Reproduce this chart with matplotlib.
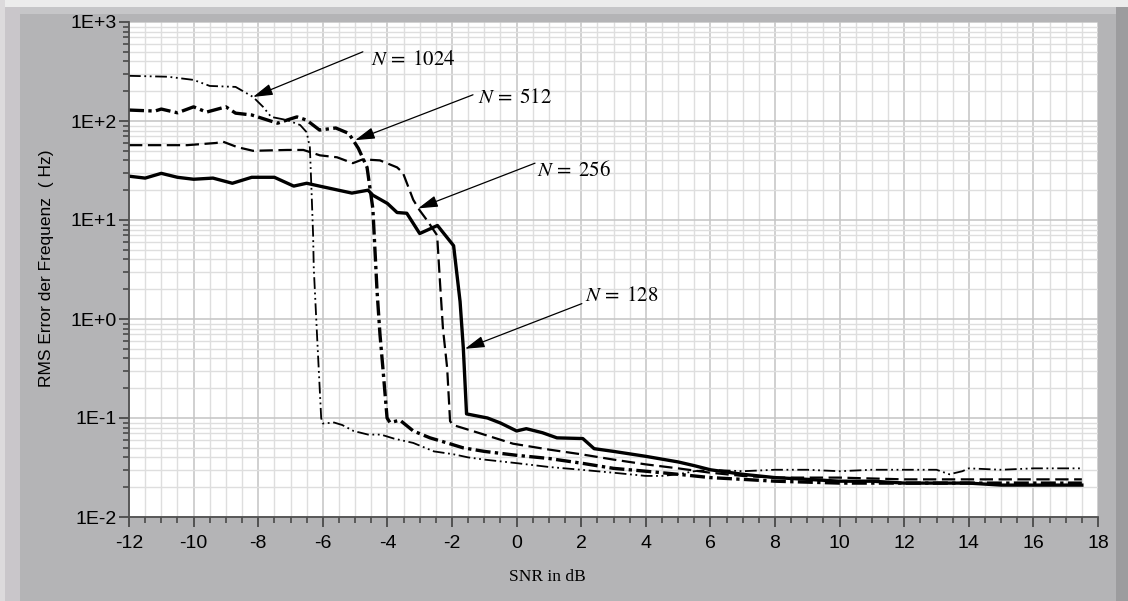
import matplotlib
matplotlib.use("Agg")
import matplotlib.pyplot as plt
import numpy as np
from matplotlib.patches import Rectangle
from matplotlib.ticker import MultipleLocator, LogLocator, FuncFormatter, NullFormatter

plt.rcParams['font.family'] = ['Liberation Sans', 'DejaVu Sans']
plt.rcParams['mathtext.fontset'] = 'stix'
plt.rcParams['axes.unicode_minus'] = False

# N = 128 (solid, thick)
snr_128 = [-12, -11.5, -11, -10.5, -10, -9.4, -8.8, -8.2, -7.5, -6.9, -6.5, -6.1, -5.1, -4.6,
           -4.45, -4.0, -3.7, -3.4, -3.0, -2.45, -1.95, -1.75, -1.65, -1.55, -0.9, -0.5, 0.0,
           0.3, 0.8, 1.25, 2.05, 2.4, 3, 4, 5, 5.5, 6, 7, 8, 9, 10, 11, 12, 13, 14, 15, 16, 17, 17.5]
rms_128 = [27.7, 26.5, 29.6, 27, 25.8, 26.5, 23.5, 27, 27, 22, 23.5, 22, 18.7, 20,
           17.8, 14.7, 11.9, 11.7, 7.3, 8.8, 5.5, 1.5, 0.51, 0.11, 0.1, 0.089, 0.074,
           0.078, 0.071, 0.063, 0.062, 0.049, 0.046, 0.041, 0.036, 0.033, 0.03, 0.027, 0.025, 0.024,
           0.023, 0.023, 0.022, 0.022, 0.022, 0.021, 0.021, 0.021, 0.021]

# N = 256 (dashed)
snr_256 = [-12, -10.2, -9.3, -9.1, -8.65, -8.16, -7.1, -6.6, -6.09, -5.56, -5.07, -4.76, -4.23,
           -3.7, -3.52, -3.2, -3.0, -2.77, -2.46, -2.37, -2.28, -2.15, -2.06, -1.97, -1.13, -0.11,
           1, 2, 3, 4, 5, 6, 7, 8, 10, 12, 14, 16, 17.5]
rms_256 = [57, 57, 60, 62, 54.5, 50, 51, 51, 45, 43, 37.5, 41, 40,
           34, 30, 16, 12.5, 9.9, 7, 2.3, 0.8, 0.32, 0.093, 0.085, 0.07, 0.055,
           0.048, 0.043, 0.038, 0.034, 0.031, 0.028, 0.026, 0.025, 0.025, 0.024, 0.024, 0.024, 0.024]

# N = 512 (thick dash-dot)
snr_512 = [-12, -11.2, -11, -10.5, -10, -9.6, -9, -8.7, -8.2, -7.7, -7.4, -7, -6.8, -6.5,
           -6.1, -5.6, -5.2, -5.1, -4.9, -4.63, -4.54, -4.45, -4.32, -4.23, -4.14, -4.01, -3.92,
           -3.61, -3.2, -2.68, -2.15, -1.66, -1, 0, 1, 2, 3, 4, 5, 6, 7, 8, 10, 12, 14, 16, 17.5]
rms_512 = [129, 126, 132, 121, 139, 123, 139, 120, 115, 102, 95, 105, 110, 102,
           81, 85, 75, 67, 53, 34, 21, 13, 1.9, 0.7, 0.32, 0.1, 0.09,
           0.095, 0.074, 0.063, 0.056, 0.05, 0.046, 0.042, 0.039, 0.035, 0.031, 0.029, 0.027, 0.025,
           0.024, 0.023, 0.022, 0.022, 0.022, 0.022, 0.022]

# N = 1024 (dash-dot-dot)
snr_1024 = [-12, -10.8, -10, -9.5, -8.7, -8.16, -7.85, -7.6, -7.1, -6.7, -6.5, -6.4, -6.35,
            -6.3, -6.28, -6.18, -6.05, -6.0, -5.65, -5.4, -5.05, -4.6, -4.2, -3.8, -3.2, -2.56,
            -1.95, -1.5, -1, 0, 1, 2, 3, 4, 4.5, 5, 5.5, 6, 7, 8, 9, 10, 11, 12, 13, 13.4, 13.8,
            14, 15, 16, 17.5]
rms_1024 = [286, 280, 260, 226, 221, 175, 139, 110, 102, 91, 77, 54, 20,
            7, 3.3, 0.7, 0.1, 0.088, 0.09, 0.085, 0.074, 0.068, 0.068, 0.062, 0.056, 0.046,
            0.043, 0.04, 0.038, 0.035, 0.032, 0.03, 0.028, 0.026, 0.026, 0.027, 0.029, 0.03,
            0.029, 0.03, 0.03, 0.029, 0.03, 0.03, 0.03, 0.027, 0.029, 0.031, 0.03, 0.031, 0.031]

# arrow tip, arrow tail, text anchor (left, middle)
notes = [
    (r'$N\,{=}\;1024$', (-8.16, 175), (-4.76, 500), (-4.5, 420)),
    (r'$N\,{=}\;512$', (-5.0, 64), (-1.35, 184), (-1.2, 171)),
    (r'$N\,{=}\;256$', (-3.05, 13.1), (0.57, 37.5), (0.63, 31.8)),
    (r'$N\,{=}\;128$', (-1.6, 0.5), (2.02, 1.43), (2.12, 1.72)),
]

W, H = 1128, 601
fig = plt.figure(figsize=(W / 100, H / 100), dpi=100, facecolor='#b4b4b6')


def strip(x0, y0, x1, y1, c):
    fig.add_artist(Rectangle((x0 / W, 1 - y1 / H), (x1 - x0) / W, (y1 - y0) / H,
                             transform=fig.transFigure, facecolor=c, lw=0, zorder=-10))


strip(0, 0, W, 7, '#ececec')
strip(0, 7, W, 14, '#c6c6c8')
strip(0, 0, 5, H, '#dcdadc')
strip(5, 7, 20, H, '#c9c6ca')
strip(1116, 7, W, H, '#9c9c9e')

ax = fig.add_axes([129 / W, 1 - 517 / H, (1098 - 129) / W, (517 - 22) / H])
ax.set_facecolor('white')
ax.set_yscale('log')
ax.set_xlim(-12, 18)
ax.set_ylim(1e-2, 1e3)

ax.xaxis.set_major_locator(MultipleLocator(2))
ax.xaxis.set_minor_locator(MultipleLocator(0.5))
ax.yaxis.set_major_locator(LogLocator(base=10, numticks=10))
ax.yaxis.set_minor_locator(LogLocator(base=10, subs=np.arange(2, 10), numticks=10))
ax.yaxis.set_minor_formatter(NullFormatter())
ax.yaxis.set_major_formatter(FuncFormatter(lambda v, p: '1E%+d' % round(np.log10(v))))

ax.grid(which='major', color='#c4c4c4', lw=1.1)
ax.grid(which='minor', color='#dedede', lw=1.0)
ax.set_axisbelow(True)

for s in ['top', 'right']:
    ax.spines[s].set_visible(False)
for s in ['left', 'bottom']:
    ax.spines[s].set_color('#505050')
    ax.spines[s].set_linewidth(1.3)

ax.tick_params(which='major', direction='out', length=7, width=1.2, color='#404040',
               labelsize=14, labelcolor='black', pad=2)
ax.tick_params(axis='x', which='major', pad=6)
ax.tick_params(which='minor', direction='out', length=4, width=1.1, color='#404040')

ax.plot(snr_1024, rms_1024, color='black', lw=1.3, dashes=(6.5, 2, 1, 2, 1, 2))
ax.plot(snr_256, rms_256, color='black', lw=1.6, dashes=(6, 2.5))
ax.plot(snr_512, rms_512, color='black', lw=2.4, dashes=(4.5, 1.3, 1, 1.3))
ax.plot(snr_128, rms_128, color='black', lw=2.4)

for label, tip, tail, pos in notes:
    ax.annotate('', xy=tip, xytext=tail,
                arrowprops=dict(arrowstyle='-|>,head_length=1.2,head_width=0.35',
                                mutation_scale=10, lw=0.9, color='black',
                                shrinkA=0, shrinkB=0))
    ax.text(pos[0], pos[1], label, ha='left', va='center', fontsize=15, color='black')

fig.text(47 / W, 1 - 268 / H, 'RMS Error der Frequenz  ( Hz)', rotation=90,
         ha='center', va='center', fontsize=12.5, color='black')
fig.text(547 / W, 1 - 577 / H, 'SNR in dB', ha='center', va='center', fontsize=12.5,
         family=['Liberation Serif', 'DejaVu Serif'], color='black')

fig.savefig('out.png', dpi=100, facecolor=fig.get_facecolor())
